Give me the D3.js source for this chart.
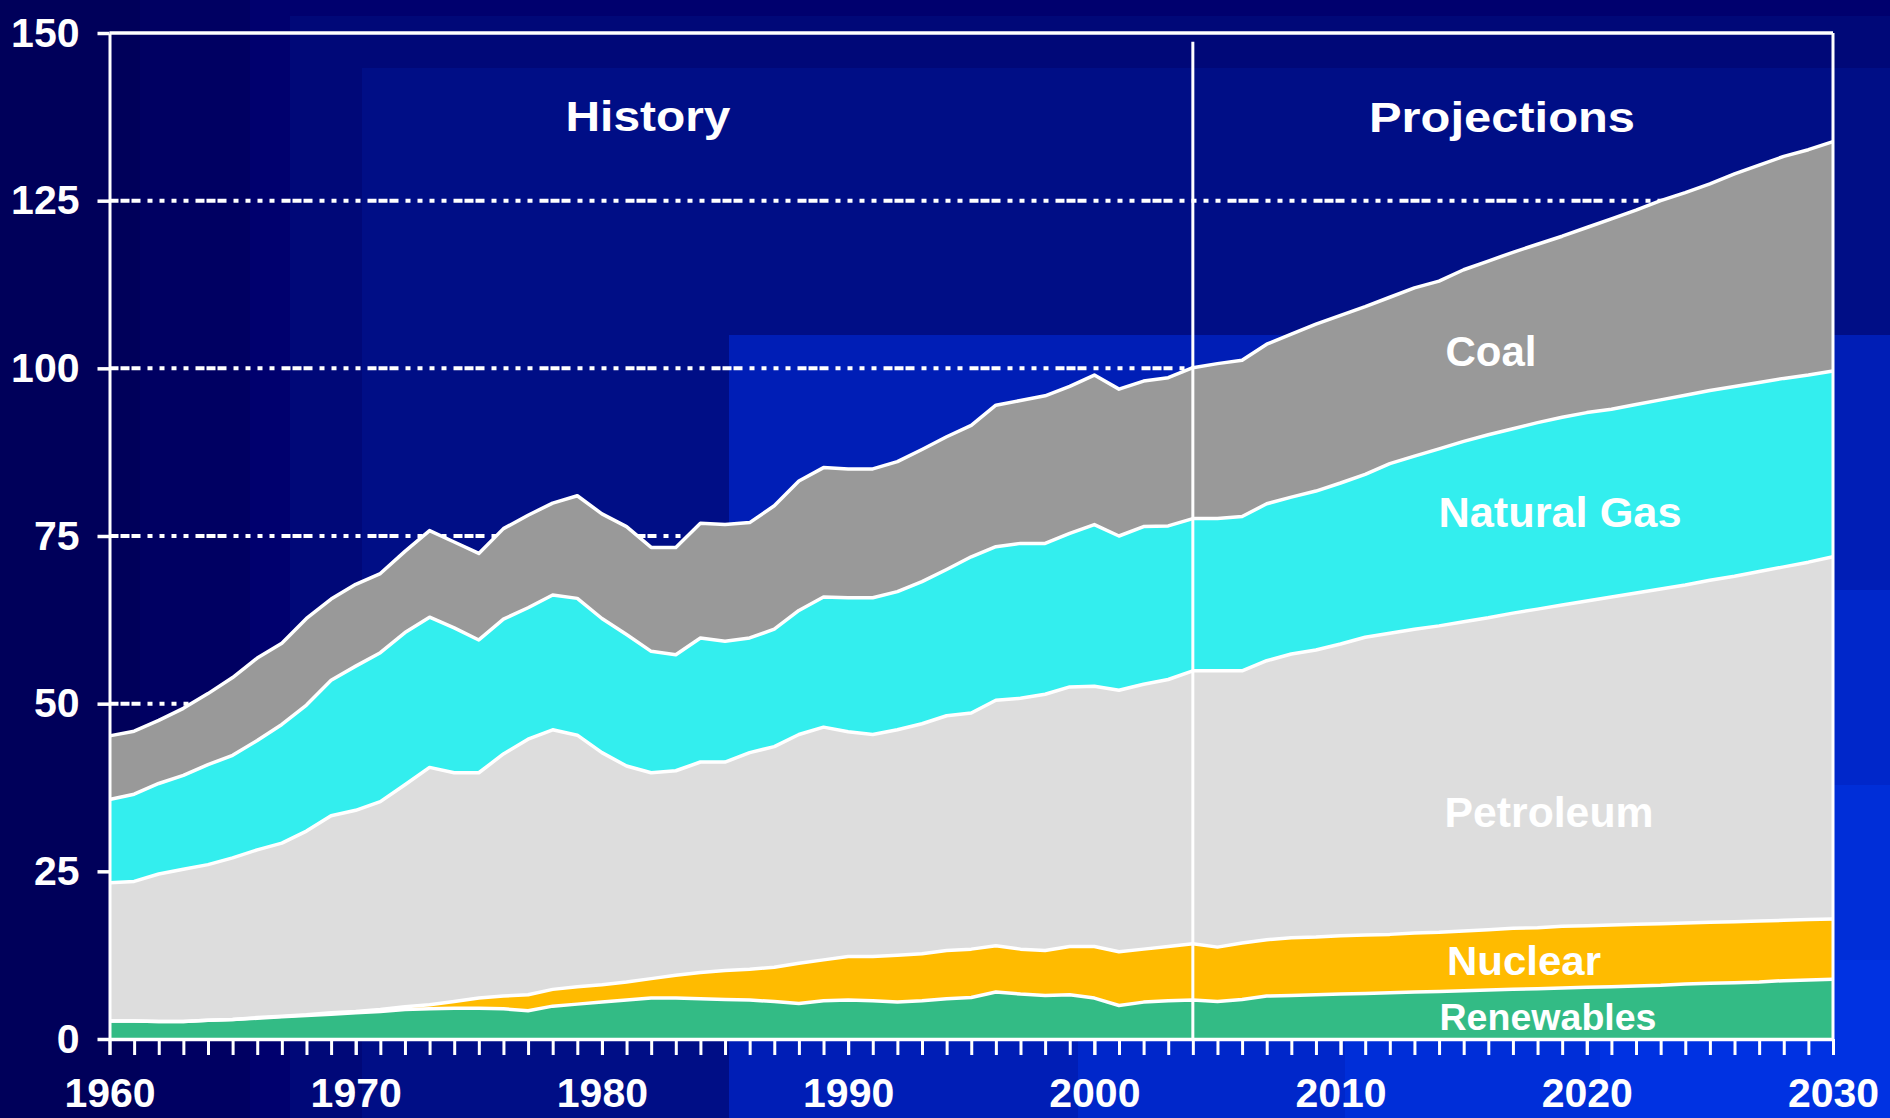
<!DOCTYPE html>
<html>
<head>
<meta charset="utf-8">
<script src="https://cdn.jsdelivr.net/npm/d3@7"></script>
<style>
  html, body { margin: 0; padding: 0; background: #00005a; overflow: hidden; }
  svg text { font-family: "Liberation Sans", Arial, Helvetica, sans-serif; font-weight: bold; fill: #ffffff; }
</style>
</head>
<body>
<svg id="chart" width="1890" height="1118"></svg>
<script>
// ---------------- DATA ----------------
const years = [1960,1961,1962,1963,1964,1965,1966,1967,1968,1969,
               1970,1971,1972,1973,1974,1975,1976,1977,1978,1979,
               1980,1981,1982,1983,1984,1985,1986,1987,1988,1989,
               1990,1991,1992,1993,1994,1995,1996,1997,1998,1999,
               2000,2001,2002,2003,2004,2005,2006,2007,2008,2009,
               2010,2011,2012,2013,2014,2015,2016,2017,2018,2019,
               2020,2021,2022,2023,2024,2025,2026,2027,2028,2029,
               2030];

const renewables = [2.7,2.7,2.6,2.6,2.8,2.9,3.1,3.3,3.5,3.7,
                    3.9,4.1,4.4,4.5,4.6,4.6,4.5,4.2,4.9,5.2,
                    5.5,5.8,6.1,6.1,6.0,5.9,5.8,5.6,5.3,5.7,
                    5.8,5.7,5.5,5.7,6.0,6.2,7.0,6.7,6.5,6.6,
                    6.1,5.0,5.5,5.7,5.8,5.6,5.9,6.4,6.5,6.6,
                    6.7,6.8,6.9,7.0,7.1,7.2,7.3,7.4,7.5,7.6,
                    7.7,7.8,7.9,8.0,8.2,8.3,8.4,8.5,8.7,8.8,
                    8.9];

const nuclear = [0.0,0.0,0.0,0.0,0.0,0.0,0.1,0.1,0.1,0.2,
                 0.2,0.3,0.4,0.6,1.0,1.5,1.9,2.4,2.5,2.6,
                 2.6,2.7,2.9,3.4,3.9,4.3,4.6,5.1,6.0,6.1,
                 6.5,6.6,7.0,7.0,7.2,7.2,6.9,6.7,6.7,7.2,
                 7.7,8.0,7.9,8.1,8.4,8.1,8.4,8.4,8.6,8.6,
                 8.7,8.7,8.7,8.8,8.8,8.9,9.0,9.1,9.1,9.2,
                 9.2,9.2,9.2,9.2,9.1,9.1,9.1,9.1,9.0,9.0,
                 9.0];

const petroleum = [20.6,20.8,22.0,22.7,23.2,24.1,25.0,25.8,27.4,29.4,
                   30.0,31.0,33.1,35.4,34.1,33.6,36.1,38.1,38.7,37.5,
                   34.6,32.2,30.7,30.5,31.4,31.1,32.3,32.9,34.1,34.7,
                   33.5,33.1,33.6,34.3,35.0,35.2,36.6,37.4,38.2,38.7,
                   38.8,39.0,39.5,39.8,40.7,41.2,40.6,41.6,42.3,42.8,
                   43.5,44.4,44.9,45.3,45.7,46.1,46.5,47.0,47.5,47.9,
                   48.4,48.9,49.4,49.9,50.4,51.0,51.5,52.1,52.7,53.3,
                   54.0];

const naturalGas = [12.4,13.0,13.5,14.0,14.9,15.3,16.3,17.7,18.8,20.2,
                    21.5,22.2,22.7,22.4,21.6,19.8,20.1,19.6,20.1,20.4,
                    20.0,19.6,18.1,17.3,18.5,18.0,17.1,17.5,18.5,19.4,
                    20.0,20.4,20.6,21.2,21.8,23.3,22.9,23.1,22.5,22.9,
                    24.1,23.0,23.5,22.9,22.7,22.7,23.0,23.4,23.4,23.7,
                    24.0,24.3,25.3,25.8,26.4,26.9,27.3,27.5,27.8,28.0,
                    28.1,28.0,28.1,28.2,28.3,28.3,28.3,28.2,28.1,27.9,
                    27.7];

const coal = [9.5,9.4,9.4,10.0,10.6,11.6,12.3,12.1,12.9,12.1,
              12.2,11.8,12.1,12.9,12.8,12.9,13.5,13.8,13.7,15.3,
              15.6,16.1,15.5,16.0,17.1,17.4,17.2,18.4,19.3,19.3,
              19.2,19.2,19.4,19.7,19.8,19.6,21.1,21.3,22.0,21.9,
              22.3,21.9,21.7,22.1,22.5,23.1,23.3,23.8,24.3,24.9,
              25.0,25.0,24.8,25.1,25.0,25.6,25.9,26.3,26.6,27.0,
              27.6,28.4,29.0,29.7,30.2,30.8,31.7,32.4,33.1,33.6,
              34.2];

const seriesKeys   = ["Renewables", "Nuclear", "Petroleum", "Natural Gas", "Coal"];
const seriesValues = [renewables, nuclear, petroleum, naturalGas, coal];

const yTickValues = [0, 25, 50, 75, 100, 125, 150];
const yGridValues = [50, 75, 100, 125];
const xLabelValues = [1960, 1970, 1980, 1990, 2000, 2010, 2020, 2030];
const historyEndYear = 2004;
const periodLabels = ["History", "Projections"];

// ---------------- STYLE ----------------
const colors = {
  "Renewables": "#33bb85",
  "Nuclear": "#ffbb00",
  "Petroleum": "#dddddd",
  "Natural Gas": "#33eeee",
  "Coal": "#999999"
};

const W = 1890, H = 1118;
const svg = d3.select("#chart");

// Background: stepped corner gradient (brightest towards bottom-right)
const bgSteps = [
  [0, 0, "#00005a"], [140, 0, "#000062"], [250, 0, "#00006e"],
  [290, 16, "#000878"], [362, 68, "#000e86"],
  [729, 335, "#001eb6"], [1078, 590, "#0027ca"], [1345, 785, "#002ed8"],
  [1600, 960, "#0032e2"]
];
const bg = svg.append("g");
bgSteps.forEach(s => {
  bg.append("rect").attr("x", s[0]).attr("y", s[1])
    .attr("width", W - s[0]).attr("height", H - s[1]).attr("fill", s[2]);
});

// ---------------- SCALES ----------------
const x = d3.scaleLinear().domain([1960, 2030]).range([109.5, 1833]);
const y = d3.scaleLinear().domain([0, 150]).range([1039, 33]);

// table for stacking
const table = years.map((yr, i) => {
  const row = { year: yr };
  seriesKeys.forEach((k, j) => { row[k] = seriesValues[j][i]; });
  return row;
});
const stacked = d3.stack().keys(seriesKeys)(table);

// ---------------- GRIDLINES ----------------
svg.append("g").selectAll("line").data(yGridValues).join("line")
  .attr("x1", x(1960)).attr("x2", x(2030))
  .attr("y1", d => y(d)).attr("y2", d => y(d))
  .attr("stroke", "#ffffff").attr("stroke-width", 4)
  .attr("stroke-dasharray", "9,2,9,2,9,7,5,7,5,7,5,7,5,7");

// ---------------- AREAS ----------------
const area = d3.area()
  .x(d => x(d.data.year))
  .y0(d => y(d[0]))
  .y1(d => y(d[1]));
const topLine = d3.line()
  .x(d => x(d.data.year))
  .y(d => y(d[1]));

svg.append("g").selectAll("path").data(stacked).join("path")
  .attr("d", area)
  .attr("fill", d => colors[d.key]);

svg.append("g").selectAll("path").data(stacked).join("path")
  .attr("d", topLine)
  .attr("fill", "none")
  .attr("stroke", "#ffffff")
  .attr("stroke-width", 3.5)
  .attr("stroke-linejoin", "round");

// ---------------- FRAME & DIVIDER ----------------
const frame = svg.append("g").attr("stroke", "#ffffff").attr("stroke-width", 3);
frame.append("line").attr("x1", x(1960)).attr("x2", x(2030)).attr("y1", y(150)).attr("y2", y(150))
  .attr("stroke-width", 3.5);
frame.append("line").attr("x1", x(2030)).attr("x2", x(2030)).attr("y1", y(150)).attr("y2", y(0));
frame.append("line").attr("x1", x(historyEndYear)).attr("x2", x(historyEndYear))
  .attr("y1", y(148.7)).attr("y2", y(0));

// ---------------- AXES ----------------
// minor yearly ticks
const xMinor = svg.append("g").attr("transform", `translate(0,${y(0)})`)
  .call(d3.axisBottom(x).tickValues(years).tickSize(16).tickSizeOuter(0).tickFormat(""));
xMinor.select(".domain").attr("stroke", "#ffffff").attr("stroke-width", 3.5);
xMinor.selectAll(".tick line").attr("stroke", "#ffffff").attr("stroke-width", 3);

// decade labels
const xLab = svg.append("g").attr("transform", `translate(0,${y(0)})`)
  .call(d3.axisBottom(x).tickValues(xLabelValues).tickSize(16).tickPadding(23).tickSizeOuter(0).tickFormat(d3.format("d")));
xLab.select(".domain").remove();
xLab.selectAll(".tick line").attr("stroke", "#ffffff").attr("stroke-width", 3);
xLab.selectAll(".tick text").attr("font-size", 41).attr("fill", "#ffffff")
  .style("font-family", "'Liberation Sans', Arial, sans-serif").style("font-weight", "bold");

const yAx = svg.append("g").attr("transform", `translate(${x(1960)},0)`)
  .call(d3.axisLeft(y).tickValues(yTickValues).tickSize(12).tickPadding(18).tickSizeOuter(0));
yAx.select(".domain").attr("stroke", "#ffffff").attr("stroke-width", 3);
yAx.selectAll(".tick line").attr("stroke", "#ffffff").attr("stroke-width", 3.5);
yAx.selectAll(".tick text").attr("font-size", 41).attr("fill", "#ffffff")
  .style("font-family", "'Liberation Sans', Arial, sans-serif").style("font-weight", "bold");

// ---------------- TEXT LABELS ----------------
const labels = svg.append("g").attr("text-anchor", "middle");
labels.append("text").attr("x", 648).attr("y", 131).attr("font-size", 43)
  .attr("textLength", 165).attr("lengthAdjust", "spacingAndGlyphs").text(periodLabels[0]);
labels.append("text").attr("x", 1502).attr("y", 132).attr("font-size", 43)
  .attr("textLength", 266).attr("lengthAdjust", "spacingAndGlyphs").text(periodLabels[1]);

const areaLabelPos = {
  "Coal":        [1491, 366, 42, 91],
  "Natural Gas": [1560, 527, 42, 243],
  "Petroleum":   [1549, 827, 42, 209],
  "Nuclear":     [1524, 975, 41, 154],
  "Renewables":  [1548, 1030, 37, 217]
};
seriesKeys.forEach(k => {
  const p = areaLabelPos[k];
  labels.append("text").attr("x", p[0]).attr("y", p[1]).attr("font-size", p[2])
    .attr("textLength", p[3]).attr("lengthAdjust", "spacingAndGlyphs").text(k);
});
</script>
</body>
</html>
